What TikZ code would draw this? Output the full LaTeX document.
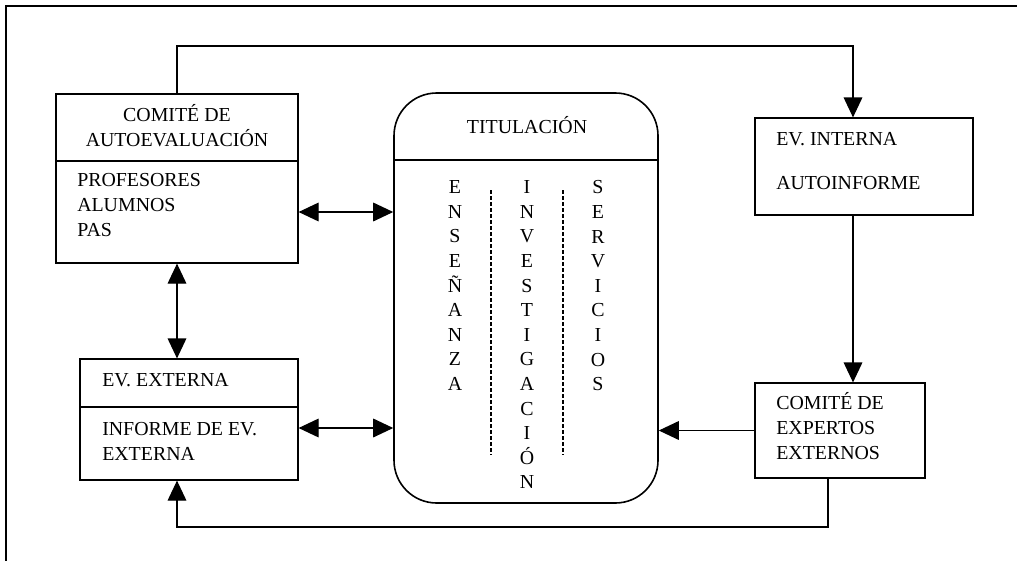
\documentclass[tikz,border=0pt]{standalone}
\usepackage{fontspec}
\setmainfont{Liberation Serif}
\usetikzlibrary{arrows.meta}

\begin{document}
\begin{tikzpicture}[
    texto/.style={font=\fontsize{14.9}{18.75}\selectfont, inner sep=0pt, align=left},
    vertical/.style={font=\fontsize{14.9}{18.45}\selectfont, inner sep=0pt, align=center, anchor=north},
    caja/.style={draw, line width=0.9pt, inner sep=0pt},
    flecha/.style={line width=0.9pt, -{Triangle[length=15pt,width=14pt]}},
    dflecha/.style={line width=0.9pt, {Triangle[length=15pt,width=14pt]}-{Triangle[length=15pt,width=14pt]}}
  ]
                \tikzset{x={(0.75pt, 0pt)}, y={(0pt, -0.75pt)}}
                \useasboundingbox (0, 0) rectangle (1017, 561);
                \draw[line width=0.9pt] (1017, 6) -- (6, 6) -- (6, 561);

                \node[caja, minimum width=181.5pt, minimum height=126.75pt] (comite) at (177, 178.5) {};
                \node[caja, minimum width=163.5pt, minimum height=90.75pt] (externa) at (189, 419.5) {};
                \node[caja, line width=1.2pt, rounded corners=32pt, minimum width=198pt, minimum height=307.5pt] (titulacion) at (526, 298) {};
                \node[caja, minimum width=163.5pt, minimum height=72.75pt] (interna) at (864, 166.5) {};
                \node[caja, minimum width=127.5pt, minimum height=71.25pt] (expertos) at (840, 430.5) {};

                \coordinate (corte1) at (0, 161);
                \coordinate (corte2) at (0, 407);
                \coordinate (corte3) at (0, 160);
                \draw[line width=0.9pt] (comite.west |- corte1) -- (comite.east |- corte1);
                \draw[line width=0.9pt] (externa.west |- corte2) -- (externa.east |- corte2);
                \draw[line width=1.2pt] (titulacion.west |- corte3) -- (titulacion.east |- corte3);

                \node[texto, align=center] (nombre) at (177, 126) {COMITÉ DE\\AUTOEVALUACIÓN};
                \node[texto, anchor=west] (miembros) at (77, 205) {PROFESORES\\ALUMNOS\\PAS};
                \node[texto, anchor=west] (evext) at (102, 380) {EV. EXTERNA};
                \node[texto, anchor=west] (informe) at (102, 441.5) {INFORME DE EV.\\EXTERNA};
                \node[texto] (titulo) at (527, 125) {TITULACIÓN};
                \node[texto, anchor=west] (evint) at (776, 139) {EV. INTERNA};
                \node[texto, anchor=west] (autoinf) at (776, 183) {AUTOINFORME};
                \node[texto, anchor=west] (comexp) at (776, 426.5) {COMITÉ DE\\EXPERTOS\\EXTERNOS};

                \node[vertical] (ensenanza) at (455, 180.5) {E\\N\\S\\E\\Ñ\\A\\N\\Z\\A};
                \node[vertical] (investigacion) at (527, 180.5) {I\\N\\V\\E\\S\\T\\I\\G\\A\\C\\I\\Ó\\N};
                \node[vertical] (servicios) at (598, 180.5) {S\\E\\R\\V\\I\\C\\I\\O\\S};
                \draw[line width=0.8pt, dash pattern=on 3pt off 1.5pt] (491, 190) -- (491, 455);
                \draw[line width=0.8pt, dash pattern=on 3pt off 1.5pt] (563, 190) -- (563, 455);

                \coordinate (eje) at (853, 0);
                \coordinate (bajada) at (828, 0);
                \coordinate (arriba) at (0, 46);
                \coordinate (abajo) at (0, 527);
                \coordinate (nivel1) at (0, 212);
                \coordinate (nivel2) at (0, 428);
                \draw[flecha] (comite.north) -- (comite.north |- arriba) -| (interna.north -| eje);
                \draw[flecha] (interna.south -| eje) -- (expertos.north -| eje);
                \draw[flecha] (expertos.west) -- (titulacion.east |- expertos.west);
                \draw[flecha] (expertos.south -| bajada) -- (bajada |- abajo) -| (externa.south -| comite.south);
                \draw[dflecha] (comite.south) -- (externa.north -| comite.south);
                \draw[dflecha] (comite.east |- nivel1) -- (titulacion.west |- nivel1);
                \draw[dflecha] (externa.east |- nivel2) -- (titulacion.west |- nivel2);
            \end{tikzpicture}
\end{document}
